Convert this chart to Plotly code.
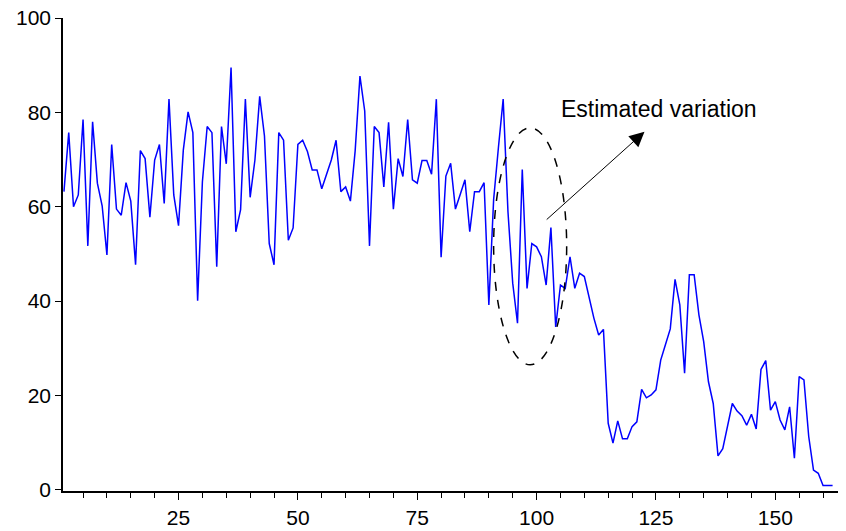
import plotly.graph_objects as go

obs = list(range(1, 163))
values = [
    63.2, 75.7, 60.0, 62.5, 78.5, 51.7, 78.0, 65.0, 60.2, 49.8,
    73.2, 59.5, 58.2, 65.1, 61.2, 47.7, 71.9, 70.2, 57.8, 69.9,
    73.2, 60.7, 82.8, 62.5, 56.0, 72.0, 80.1, 75.7, 40.1, 65.3,
    77.0, 75.7, 47.3, 77.0, 69.1, 89.5, 54.7, 59.4, 82.8, 62.0,
    69.9, 83.4, 75.0, 52.2, 47.7, 75.7, 74.1, 52.9, 55.5, 73.2,
    74.1, 71.7, 67.8, 67.8, 63.8, 66.7, 69.9, 74.1, 63.2, 64.2,
    61.2, 71.9, 87.7, 80.3, 51.7, 77.0, 75.7, 64.2, 77.9, 59.5,
    70.2, 66.4, 78.5, 65.7, 65.0, 69.8, 69.8, 66.9, 82.8, 49.3,
    66.5, 69.2, 59.5, 62.6, 65.7, 54.7, 63.2, 63.2, 65.1, 39.2,
    61.5, 72.5, 82.8, 59.0, 43.8, 35.3, 67.9, 42.7, 52.2, 51.5,
    49.4, 43.4, 55.6, 34.5, 43.4, 42.7, 49.4, 42.7, 45.9, 45.2,
    40.9, 36.4, 32.8, 34.0, 14.1, 9.9, 14.6, 10.8, 10.8, 13.4,
    14.4, 21.3, 19.5, 20.1, 21.2, 27.5, 30.8, 34.1, 44.6, 39.2,
    24.7, 45.6, 45.6, 37.1, 31.4, 22.9, 18.3, 7.2, 8.7, 13.4,
    18.3, 16.7, 15.7, 13.7, 16.0, 12.9, 25.5, 27.4, 16.9, 18.7,
    14.8, 12.7, 17.6, 6.7, 24.0, 23.3, 11.3, 4.2, 3.5, 0.9,
    0.9, 0.9,
]

x_ticks = [25, 50, 75, 100, 125, 150]
y_ticks = [0, 20, 40, 60, 80, 100]
annotation_text = "Estimated variation"

fig = go.Figure()
fig.add_trace(go.Scatter(x=obs, y=values, mode="lines",
                         line=dict(color="#0000FF", width=1.5),
                         showlegend=False, hoverinfo="skip"))

# dashed ellipse around the estimated variation
fig.add_shape(type="circle", xref="x", yref="y",
              x0=91.0, x1=106.3, y0=26.5, y1=76.7,
              line=dict(color="black", width=1.5, dash="dash"))

# arrow
fig.add_annotation(x=122.6, y=75.9, ax=101.8, ay=57.0,
                   xref="x", yref="y", axref="x", ayref="y",
                   text="", showarrow=True, arrowhead=2, arrowsize=3,
                   arrowwidth=1, arrowcolor="black", standoff=0, startstandoff=0)

fig.add_annotation(x=125.7, y=80.8, xref="x", yref="y",
                   text=annotation_text, showarrow=False,
                   font=dict(family="Liberation Sans, Arial", size=23, color="black"))

# the page body has an 8px default margin; size the figure to compensate
fig.update_layout(
    width=838, height=523,
    margin=dict(l=55, r=1, t=10, b=40),
    paper_bgcolor="white", plot_bgcolor="white",
    font=dict(family="Liberation Sans, Arial", size=21, color="black"),
)
fig.update_xaxes(range=[0.8, 164.6], tickvals=x_ticks, ticks="outside", ticklen=7,
                 tickcolor="black", showline=True, linecolor="black", linewidth=1.5,
                 showgrid=False, zeroline=False, automargin=False,
                 ticklabeloverflow="allow",
                 minor=dict(tickvals=list(range(5, 165, 5)), ticks="outside",
                            ticklen=5, tickcolor="black", showgrid=False))
fig.update_yaxes(range=[-0.25, 100], tickvals=y_ticks, ticks="outside", ticklen=6,
                 tickcolor="black", showline=True, linecolor="black", linewidth=1.5,
                 showgrid=False, zeroline=False, automargin=False,
                 ticklabeloverflow="allow")

fig.write_html("out.html")
